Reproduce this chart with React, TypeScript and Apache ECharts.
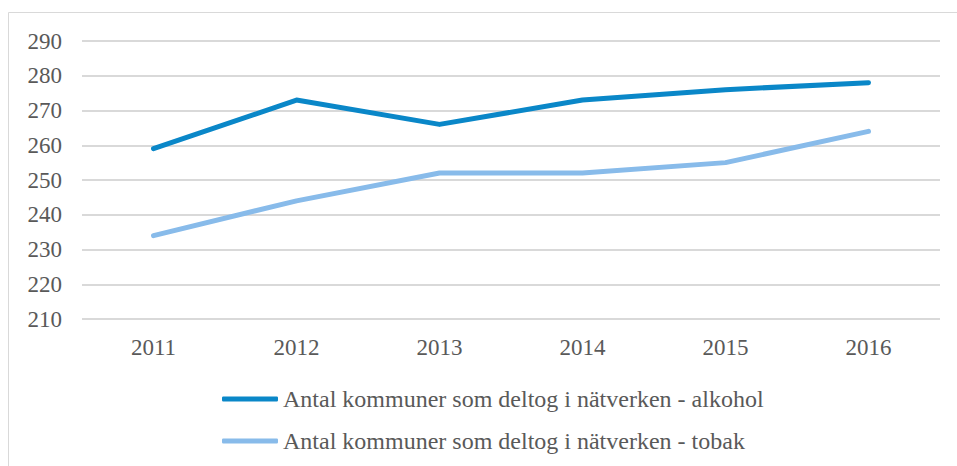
import React, { useEffect, useRef } from "react";
import * as echarts from "echarts";

const categories = ["2011", "2012", "2013", "2014", "2015", "2016"];
const alkohol = [259, 273, 266, 273, 276, 278];
const tobak = [234, 244, 252, 252, 255, 264];
const seriesNames = [
  "Antal kommuner som deltog i nätverken - alkohol",
  "Antal kommuner som deltog i nätverken - tobak",
];

const FONT = "'Liberation Serif', 'Times New Roman', serif";

export default function App() {
  const ref = useRef<HTMLDivElement>(null);
  useEffect(() => {
    if (!ref.current) return;
    const chart = echarts.init(ref.current, undefined, { renderer: "svg" });
    chart.setOption({
      animation: false,
      backgroundColor: "#ffffff",
      textStyle: { fontFamily: FONT },
      graphic: [
        {
          type: "rect",
          shape: { x: 8.5, y: 12.5, width: 960, height: 470 },
          style: { fill: "none", stroke: "#d9d9d9", lineWidth: 1 },
          silent: true,
        },
      ],
      grid: { left: 82, right: 17, top: 41, height: 278, containLabel: false },
      xAxis: {
        type: "category",
        data: categories,
        boundaryGap: true,
        axisLine: { show: false },
        axisTick: { show: false },
        axisLabel: { color: "#595959", fontSize: 23, fontFamily: FONT, margin: 17 },
      },
      yAxis: {
        type: "value",
        min: 210,
        max: 290,
        interval: 10,
        axisLine: { show: false },
        axisTick: { show: false },
        axisLabel: { color: "#595959", fontSize: 23, fontFamily: FONT, margin: 20 },
        splitLine: { lineStyle: { color: "#d9d9d9", width: 2 } },
      },
      legend: [
        {
          data: [seriesNames[0]],
          left: 217,
          top: 382,
          icon: "roundRect",
          itemWidth: 56,
          itemHeight: 5,
          textStyle: { color: "#595959", fontSize: 24, fontFamily: FONT },
        },
        {
          data: [seriesNames[1]],
          left: 217,
          top: 424,
          icon: "roundRect",
          itemWidth: 56,
          itemHeight: 5,
          textStyle: { color: "#595959", fontSize: 24, fontFamily: FONT },
        },
      ],
      series: [
        {
          name: seriesNames[0],
          type: "line",
          data: alkohol,
          symbol: "none",
          color: "#0a87c8",
          lineStyle: { width: 5, cap: "round", join: "round", color: "#0a87c8" },
        },
        {
          name: seriesNames[1],
          type: "line",
          data: tobak,
          symbol: "none",
          color: "#88bbea",
          lineStyle: { width: 5, cap: "round", join: "round", color: "#88bbea" },
        },
      ],
    });
    return () => chart.dispose();
  }, []);
  return (
    <div
      ref={ref}
      style={{ position: "fixed", left: 0, top: 0, width: 957, height: 466 }}
    />
  );
}
